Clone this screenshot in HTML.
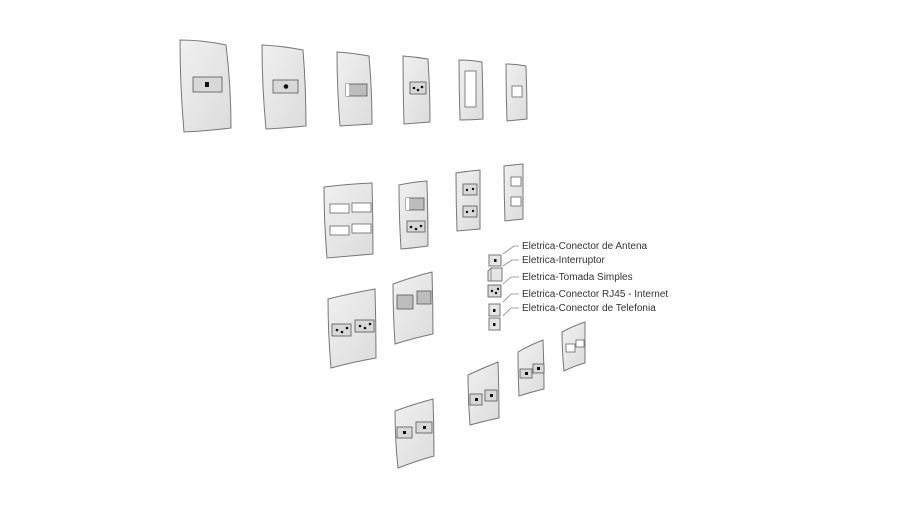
<!DOCTYPE html>
<html><head><meta charset="utf-8"><style>
html,body{margin:0;padding:0;background:#fff;}
svg{display:block;}
text{font-family:"Liberation Sans",sans-serif;font-size:10px;fill:#333;}
.p{fill:#e5e5e5;stroke:#777;stroke-width:1;}
.w{fill:#fff;stroke:#666;stroke-width:0.8;}
.c{fill:#d8d8d8;stroke:#555;stroke-width:0.8;}
.s{fill:#bdbdbd;stroke:#555;stroke-width:0.8;}
.d{fill:#111;}
.l{fill:none;stroke:#888;stroke-width:0.8;}
</style></head><body>
<svg width="910" height="512" viewBox="0 0 910 512" xmlns="http://www.w3.org/2000/svg">
<defs>
<linearGradient id="g" x1="0" y1="0" x2="1" y2="1"><stop offset="0" stop-color="#f0f0f0"/><stop offset="1" stop-color="#dcdcdc"/></linearGradient>
</defs>
<g style="fill:url(#g)">
<!-- row 1 -->
<path class="p" style="fill:url(#g)" d="M180,40 Q203,40 226,45 Q231,85 231,128 Q207,131 184,132 Q180,86 180,40Z"/>
<rect class="c" x="193" y="77" width="29" height="15"/><rect class="d" x="205" y="82" width="4" height="5"/>
<path class="p" style="fill:url(#g)" d="M262,45 Q283,46 303,50 Q306,88 306,126 Q286,128 266,129 Q262,87 262,45Z"/>
<rect class="c" x="273" y="80" width="25" height="13"/><circle class="d" cx="286" cy="86.5" r="2.3"/>
<path class="p" style="fill:url(#g)" d="M337,52 Q353,53 369,56 Q372,90 372,124 Q356,125 340,126 Q337,89 337,52Z"/>
<rect class="s" x="346" y="84" width="21" height="12"/><rect x="346" y="84" width="3" height="12" fill="#fff"/>
<path class="p" style="fill:url(#g)" d="M403,56 Q416,57 428,59 Q430,90 430,122 Q417,123 404,124 Q403,90 403,56Z"/>
<rect class="c" x="410" y="82" width="16" height="12"/><circle class="d" cx="414" cy="88" r="1.3"/><circle class="d" cx="418" cy="90" r="1.3"/><circle class="d" cx="422" cy="87" r="1.3"/>
<path class="p" style="fill:url(#g)" d="M459,60 Q471,60 482,62 Q483,90 483,119 Q472,120 460,120 Q459,90 459,60Z"/>
<rect class="w" x="465" y="71" width="11" height="36"/>
<path class="p" style="fill:url(#g)" d="M506,64 Q516,64 526,66 Q527,92 527,119 Q517,120 507,121 Q506,92 506,64Z"/>
<rect class="w" x="512" y="86" width="10" height="11"/>
<!-- row 2 -->
<path class="p" style="fill:url(#g)" d="M324,187 Q348,184 372,183 Q373,218 373,254 Q350,256 327,258 Q324,222 324,187Z"/>
<rect class="w" x="330" y="204" width="19" height="9"/><rect class="w" x="352" y="203" width="19" height="9"/>
<rect class="w" x="330" y="226" width="19" height="9"/><rect class="w" x="352" y="224" width="19" height="9"/>
<path class="p" style="fill:url(#g)" d="M399,185 Q413,182 427,181 Q428,213 428,246 Q414,248 401,249 Q399,217 399,185Z"/>
<rect class="s" x="406" y="198" width="18" height="12"/><rect x="406" y="198" width="3" height="12" fill="#fff"/>
<rect class="c" x="407" y="221" width="18" height="11"/><circle class="d" cx="411" cy="227" r="1.3"/><circle class="d" cx="416" cy="229" r="1.3"/><circle class="d" cx="421" cy="226" r="1.3"/>
<path class="p" style="fill:url(#g)" d="M456,173 Q468,171 480,170 Q480,199 480,229 Q469,230 457,231 Q456,202 456,173Z"/>
<rect class="c" x="463" y="184" width="14" height="11"/><circle class="d" cx="467" cy="190" r="1.2"/><circle class="d" cx="473" cy="189" r="1.2"/>
<rect class="c" x="463" y="206" width="14" height="11"/><circle class="d" cx="467" cy="212" r="1.2"/><circle class="d" cx="473" cy="211" r="1.2"/>
<path class="p" style="fill:url(#g)" d="M504,166 Q513,165 523,164 Q523,191 523,219 Q514,220 505,221 Q504,193 504,166Z"/>
<rect class="w" x="511" y="177" width="10" height="9"/><rect class="w" x="511" y="197" width="10" height="9"/>
<!-- row 3 -->
<path class="p" style="fill:url(#g)" d="M328,299 Q352,293 375,289 Q376,323 376,358 Q353,362 331,368 Q328,333 328,299Z"/>
<rect class="c" x="332" y="324" width="19" height="12"/><circle class="d" cx="337" cy="330" r="1.3"/><circle class="d" cx="342" cy="332" r="1.3"/><circle class="d" cx="347" cy="328" r="1.3"/>
<rect class="c" x="355" y="320" width="19" height="12"/><circle class="d" cx="360" cy="326" r="1.3"/><circle class="d" cx="365" cy="328" r="1.3"/><circle class="d" cx="370" cy="324" r="1.3"/>
<path class="p" style="fill:url(#g)" d="M393,284 Q412,277 432,272 Q433,303 433,334 Q414,338 395,344 Q393,314 393,284Z"/>
<rect class="s" x="397" y="295" width="16" height="14"/><rect class="s" x="417" y="291" width="14" height="13"/>
<!-- row 4 -->
<path class="p" style="fill:url(#g)" d="M395,411 Q414,404 433,399 Q434,428 434,456 Q416,461 398,468 Q395,440 395,411Z"/>
<rect class="c" x="397" y="427" width="15" height="11"/><rect class="d" x="403" y="431" width="3" height="3"/>
<rect class="c" x="416" y="422" width="16" height="11"/><rect class="d" x="423" y="426" width="3" height="3"/>
<path class="p" style="fill:url(#g)" d="M468,375 Q483,368 498,362 Q499,390 499,418 Q484,421 470,425 Q468,400 468,375Z"/>
<rect class="c" x="470" y="394" width="12" height="11"/><rect class="d" x="475" y="398" width="3" height="3"/>
<rect class="c" x="485" y="390" width="12" height="11"/><rect class="d" x="490" y="394" width="3" height="3"/>
<path class="p" style="fill:url(#g)" d="M518,352 Q530,345 543,340 Q544,364 544,389 Q531,392 519,396 Q518,374 518,352Z"/>
<rect class="c" x="520" y="369" width="12" height="9"/><rect class="d" x="525" y="372" width="3" height="3"/>
<rect class="c" x="533" y="364" width="11" height="9"/><rect class="d" x="537" y="367" width="3" height="3"/>
<path class="p" style="fill:url(#g)" d="M562,332 Q573,326 585,322 Q585,342 585,363 Q574,366 564,371 Q562,351 562,332Z"/>
<rect class="w" x="566" y="344" width="9" height="8"/><rect class="w" x="576" y="340" width="8" height="7"/>
</g>
<!-- legend -->
<rect class="p" x="489" y="255" width="12" height="11"/><rect class="d" x="494" y="259" width="2.5" height="3"/>
<path class="p" d="M488,271 L491,268 L502,268 L502,281 L488,281Z"/><line x1="491" y1="268" x2="491" y2="281" stroke="#777" stroke-width="0.8"/>
<rect class="c" x="488" y="285" width="13" height="12"/><circle class="d" cx="492" cy="291" r="1.2"/><circle class="d" cx="496" cy="293" r="1.2"/><circle class="d" cx="498" cy="289" r="1.2"/>
<rect class="p" x="489" y="304" width="11" height="12"/><rect class="d" x="493" y="309" width="2.5" height="3"/>
<rect class="p" x="489" y="318" width="11" height="12"/><rect class="d" x="493" y="323" width="2.5" height="3"/>
<path class="l" d="M503,254 L514,246 L519,246"/>
<path class="l" d="M503,266 L512,260 L519,260"/>
<path class="l" d="M503,284 L511,277 L519,277"/>
<path class="l" d="M503,302 L511,294 L519,294"/>
<path class="l" d="M503,316 L511,308 L519,308"/>
<text x="522" y="249">Eletrica-Conector de Antena</text>
<text x="522" y="263">Eletrica-Interruptor</text>
<text x="522" y="280">Eletrica-Tomada Simples</text>
<text x="522" y="297">Eletrica-Conector RJ45 - Internet</text>
<text x="522" y="311">Eletrica-Conector de Telefonia</text>
</svg>
</body></html>
